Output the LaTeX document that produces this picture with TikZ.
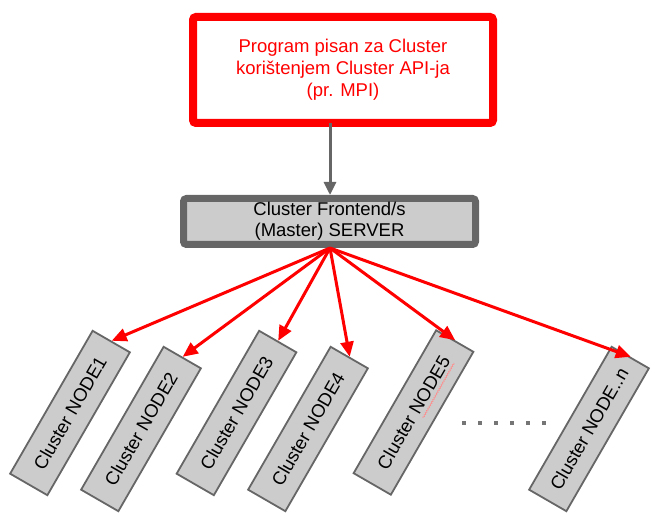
\documentclass[tikz,border=0pt]{standalone}
\usepackage{fontspec}
\setmainfont{Liberation Sans}
\usetikzlibrary{arrows.meta,decorations.pathmorphing}
\definecolor{boxgrey}{HTML}{CCCCCC}
\definecolor{edgegrey}{HTML}{666666}
\begin{document}
\begin{tikzpicture}[x=1pt,y=-1pt,
  topbox/.style={draw=red,line width=8pt,rounded corners=3pt,fill=white,
    minimum width=300pt,minimum height=106pt,inner sep=0pt,align=center,
    text=red,font=\fontsize{18.5}{22}\selectfont},
  serverbox/.style={draw=edgegrey,line width=7pt,rounded corners=3pt,fill=boxgrey,
    minimum width=292pt,minimum height=46pt,inner sep=0pt,align=center,
    font=\fontsize{18.5}{21}\selectfont},
  clnode/.style={draw=edgegrey,line width=1.8pt,fill=boxgrey,rotate=60,
    minimum width=165pt,minimum height=43pt,inner sep=0pt,
    font=\fontsize{18.5}{21}\selectfont},
  redarrow/.style={red,line width=3pt,-{Triangle[length=15pt,width=13pt]}},
  greyarrow/.style={edgegrey,line width=3pt,-{Triangle[length=13pt,width=12pt]}},
  dotsq/.style={fill=edgegrey!90,minimum size=3.5pt,inner sep=0pt}
]
\useasboundingbox (0,0) rectangle (656,518);

\node[topbox] (prog) at (343,70) {Program pisan za Cluster\\korištenjem Cluster API-ja\\(pr. MPI)};
\node[serverbox] (srv) at (329.5,221.5) {Cluster Frontend/s\\(Master) SERVER};
\coordinate (src) at (330,248);

\node[clnode] (n1) at (70,413) {Cluster NODE1};
\node[clnode] (n2) at (141,429) {Cluster NODE2};
\node[clnode] (n3) at (236.5,413) {Cluster NODE3};
\node[clnode] (n4) at (308,429) {Cluster NODE4};
\node[clnode] (n5) at (413.5,412.5) {Cluster NODE5};
\node[clnode] (nn) at (589,429) {Cluster NODE..n};

\draw[greyarrow] (prog.south -| src) ++(0,-4) coordinate (gs) -- (srv.north -| src);

\foreach \n in {n1,n2,n3,n4,n5,nn}
  \draw[redarrow] (src) -- (\n.east);

\foreach \k in {0,...,5}
  \node[dotsq] (d\k) at (464+16*\k,423) {};

\draw[red!45,line width=0.6pt,decorate,decoration={snake,amplitude=0.7pt,segment length=2.5pt}]
  (423,418) -- (454,363);
\end{tikzpicture}
\end{document}
